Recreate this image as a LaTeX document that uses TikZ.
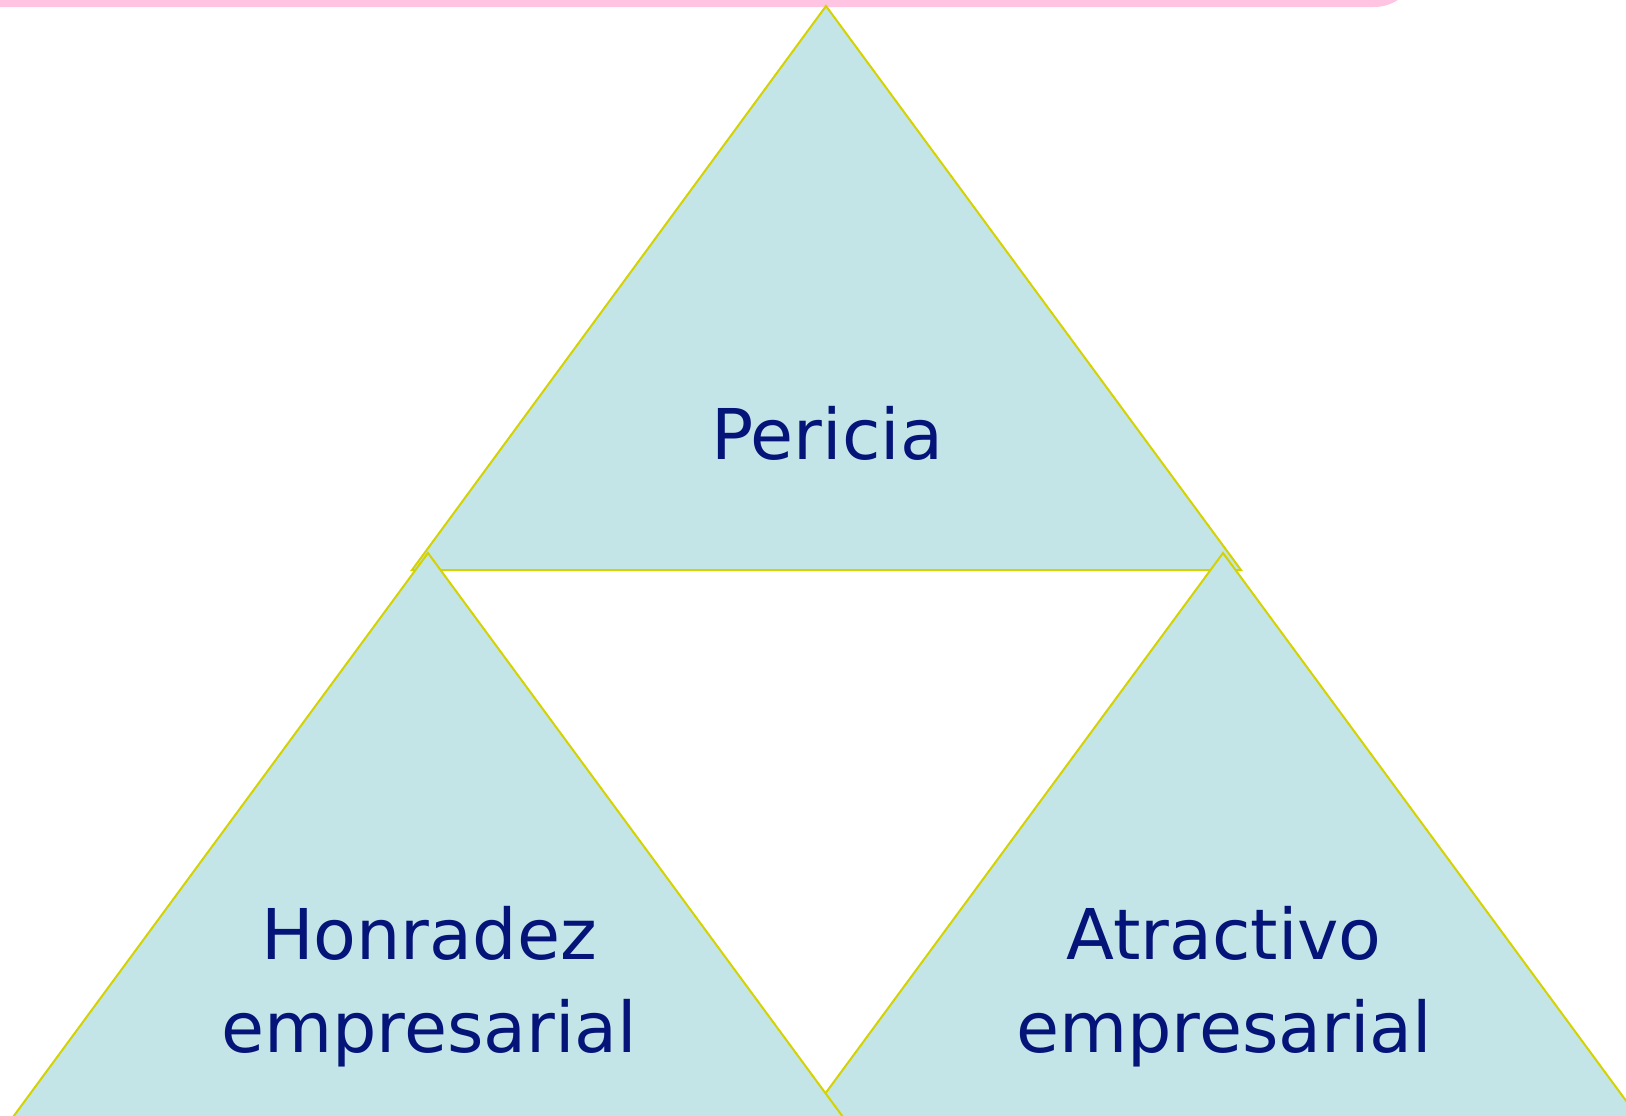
\documentclass[tikz,border=0pt]{standalone}
\usepackage{fontspec}
\setmainfont{DejaVu Sans}
\definecolor{tribg}{RGB}{196,229,232}
\definecolor{triline}{RGB}{212,210,0}
\definecolor{barpink}{RGB}{255,196,225}
\definecolor{txtnavy}{RGB}{5,20,120}
\begin{document}
\begin{tikzpicture}[x=0.5pt,y=-0.5pt,
  tri/.style={fill=tribg,draw=triline,line width=1pt,line join=miter},
  lbl/.style={text=txtnavy,inner sep=0pt,align=center,font=\fontsize{35}{46.5}\selectfont}]
\useasboundingbox (0,0) rectangle (1626,1115);
\begin{scope}
\clip (0,0) rectangle (1626,1115);
\fill[barpink,rounded corners=22pt] (-60,-100) rectangle (1418,7);
% top triangle
\path[tri] (826,6) -- (1241,570) -- (412,570) -- cycle;
% right triangle
\path[tri] (1223,553) -- (1638,1117) -- (808,1117) -- cycle;
% left triangle
\path[tri] (428,553) -- (843,1117) -- (13,1117) -- cycle;
\end{scope}
\node[lbl,anchor=base] (pericia) at (827,459) {Pericia};
\node[lbl,anchor=north] (honradez) at (429,906) {Honradez\\empresarial};
\node[lbl,anchor=north] (atractivo) at (1224,906) {Atractivo\\empresarial};
\end{tikzpicture}
\end{document}
